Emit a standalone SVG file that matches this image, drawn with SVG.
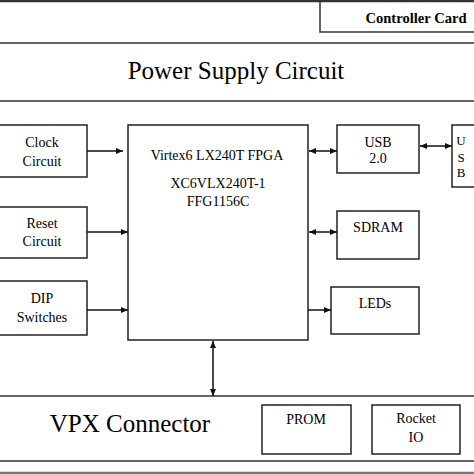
<svg xmlns="http://www.w3.org/2000/svg" width="474" height="474" viewBox="0 0 474 474">
<style>
.box{fill:#fff;stroke:#222;stroke-width:1.5}
.ln{stroke:#333;stroke-width:1.5;fill:none}
.t{font-size:14px;fill:#000;text-anchor:middle}
.big{font-size:25px;fill:#000;text-anchor:middle}
.c{stroke:#111;stroke-width:1.5;fill:none}
</style>
<defs>
<marker id="ah" markerWidth="8" markerHeight="8" refX="7" refY="4" orient="auto-start-reverse" markerUnits="userSpaceOnUse">
<path d="M0,1 L7,4 L0,7 Z" fill="#111"/>
</marker>
</defs>
<rect width="474" height="474" fill="#fff"/>
<g font-family="'Liberation Serif', 'Times New Roman', 'DejaVu Serif', serif">
<g id="frame">
<line class="ln" x1="0" y1="1" x2="474" y2="1" style="stroke-width:2.5"/>
<line class="ln" x1="0" y1="43" x2="474" y2="43"/>
<line class="ln" x1="0" y1="101" x2="474" y2="101"/>
<line class="ln" x1="0" y1="396" x2="474" y2="396"/>
<line class="ln" x1="0" y1="461" x2="474" y2="461"/>
<line x1="0" y1="473" x2="474" y2="473" stroke="#777" stroke-width="2.5"/>
</g>
<g id="controller-card">
<path class="ln" d="M320,0 V32 H474"/>
<text class="t" x="416" y="23" font-weight="bold" style="font-size:14.6px">Controller Card</text>
</g>
<g id="power-supply"><text class="big" x="236" y="79">Power Supply Circuit</text></g>
<g id="vpx"><text class="big" x="130" y="432">VPX Connector</text></g>
<g id="clock"><rect class="box" x="-2" y="125" width="89" height="52"/>
<text class="t" x="42" y="147">Clock</text><text class="t" x="42" y="166">Circuit</text></g>
<g id="reset"><rect class="box" x="-2" y="207" width="89" height="51"/>
<text class="t" x="42" y="228">Reset</text><text class="t" x="42" y="246">Circuit</text></g>
<g id="dip"><rect class="box" x="-2" y="281" width="89" height="54"/>
<text class="t" x="42" y="303">DIP</text><text class="t" x="42" y="322">Switches</text></g>
<g id="fpga"><rect class="box" x="128" y="125" width="180" height="215"/>
<text class="t" x="217" y="160">Virtex6 LX240T FPGA</text>
<text class="t" x="218" y="188">XC6VLX240T-1</text>
<text class="t" x="218" y="206">FFG1156C</text></g>
<g id="usb20"><rect class="box" x="337" y="125" width="82" height="48"/>
<text class="t" x="378" y="147">USB</text><text class="t" x="378" y="163">2.0</text></g>
<g id="usbb"><rect class="box" x="452" y="125" width="30" height="62"/>
<text class="t" x="461" y="145" style="font-size:13px">U</text>
<text class="t" x="461" y="162" style="font-size:13px">S</text>
<text class="t" x="461" y="177" style="font-size:13px">B</text></g>
<g id="sdram"><rect class="box" x="337" y="211" width="82" height="48"/>
<text class="t" x="378" y="232">SDRAM</text></g>
<g id="leds"><rect class="box" x="331" y="287" width="88" height="47"/>
<text class="t" x="375" y="308">LEDs</text></g>
<g id="prom"><rect class="box" x="262" y="405" width="89" height="49"/>
<text class="t" x="306" y="424">PROM</text></g>
<g id="rocketio"><rect class="box" x="372" y="405" width="88" height="49"/>
<text class="t" x="416" y="423">Rocket</text><text class="t" x="416" y="442">IO</text></g>
</g>
<g id="connectors">
<line class="c" x1="87" y1="151" x2="123" y2="151" marker-end="url(#ah)"/>
<line class="c" x1="87" y1="232" x2="128" y2="232" marker-end="url(#ah)"/>
<line class="c" x1="87" y1="310" x2="128" y2="310" marker-end="url(#ah)"/>
<line class="c" x1="309" y1="151" x2="337" y2="151" marker-start="url(#ah)" marker-end="url(#ah)"/>
<line class="c" x1="420" y1="146" x2="452" y2="146" marker-start="url(#ah)" marker-end="url(#ah)"/>
<line class="c" x1="309" y1="232" x2="337" y2="232" marker-start="url(#ah)" marker-end="url(#ah)"/>
<line class="c" x1="308" y1="310" x2="331" y2="310" marker-end="url(#ah)"/>
<line class="c" x1="213" y1="341" x2="213" y2="396" marker-start="url(#ah)" marker-end="url(#ah)"/>
</g>
</svg>
